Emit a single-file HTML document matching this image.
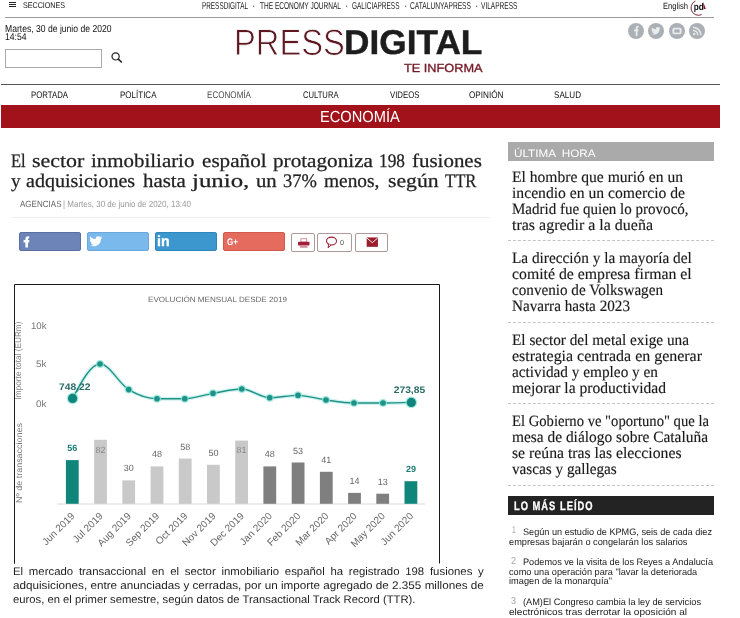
<!DOCTYPE html>
<html lang="es"><head><meta charset="utf-8"><title>PressDigital</title>
<style>
html,body{margin:0;padding:0;background:#fff;}
body{width:740px;height:618px;position:relative;overflow:hidden;font-family:"Liberation Sans",sans-serif;will-change:transform;-webkit-font-smoothing:antialiased;text-rendering:geometricPrecision;}
.t{position:absolute;white-space:pre;transform-origin:0 0;display:block;}
.b{position:absolute;display:block;}
svg{position:absolute;overflow:visible;}
</style></head><body>
<div class="b" style="left:9px;top:2px;width:6.5px;height:1px;background:#222;"></div>
<div class="b" style="left:9px;top:4px;width:6.5px;height:1px;background:#222;"></div>
<div class="b" style="left:9px;top:6px;width:6.5px;height:1px;background:#222;"></div>
<div class="b" style="left:5px;top:17px;width:709px;height:1px;background:#999;"></div>
<div class="b" style="left:5px;top:49px;width:95px;height:17px;border:1px solid #a9a9a9;background:#fff;"></div>
<svg style="left:110px;top:51px" width="14" height="13" viewBox="0 0 14 13"><circle cx="5.6" cy="5.4" r="3.6" fill="none" stroke="#222" stroke-width="1.2"/><path d="M8.3 8.1 L11.4 11" stroke="#222" stroke-width="1.7" stroke-linecap="round"/></svg>
<div class="b" style="left:1px;top:84px;width:719px;height:1px;background:#555;"></div>
<div class="b" style="left:1px;top:105px;width:719px;height:23px;background:#a2121a;"></div>
<svg style="left:628px;top:22.7px" width="16" height="16" viewBox="-8 -8 16 16"><circle r="8" fill="#aab0b5"/><path d="M-0.3 5 V0.3 H-2 V-1.6 H-0.3 V-3 C-0.3 -4.6 0.8 -5.3 2.6 -5.1 V-3.4 C1.7 -3.5 1.5 -3.2 1.5 -2.7 V-1.6 H2.6 L2.3 0.3 H1.5 V5 Z" fill="#e8eaeb"/></svg>
<svg style="left:648.4px;top:22.7px" width="16" height="16" viewBox="-8 -8 16 16"><circle r="8" fill="#aab0b5"/><path d="M-4.6 2.9 C-1 4.8 3.6 2.6 3.6 -1.9 L4.6 -3 L3.4 -2.7 L4.2 -3.9 L2.9 -3.4 C1.6 -4.7 -0.6 -3.7 -0.2 -1.8 C-1.9 -1.9 -3.2 -2.7 -4.1 -3.8 C-4.7 -2.7 -4.3 -1.6 -3.6 -1 L-4.5 -1.3 C-4.5 -0.2 -3.7 0.6 -2.8 0.9 L-3.7 0.9 C-3.4 1.8 -2.6 2.3 -1.7 2.3 C-2.5 2.9 -3.5 3.1 -4.6 2.9Z" fill="#e8eaeb"/></svg>
<svg style="left:668.9px;top:22.7px" width="16" height="16" viewBox="-8 -8 16 16"><circle r="8" fill="#aab0b5"/><rect x="-4.6" y="-3.2" width="9.2" height="6.4" rx="1.6" fill="#e8eaeb"/><rect x="-2.6" y="-1.6" width="5.2" height="3.2" fill="#aab0b5"/></svg>
<svg style="left:689.4px;top:22.7px" width="16" height="16" viewBox="-8 -8 16 16"><circle r="8" fill="#aab0b5"/><circle cx="-2.8" cy="3" r="1.2" fill="#e8eaeb"/><path d="M-4 -0.6 A4.6 4.6 0 0 1 0.8 4.2 M-4 -3.6 A7.6 7.6 0 0 1 3.8 4.2" fill="none" stroke="#e8eaeb" stroke-width="1.5"/></svg>
<svg style="left:689px;top:0px" width="18" height="16" viewBox="0 0 18 16"><path d="M6.4 1 A7.4 7.4 0 0 0 12.6 14.6" fill="none" stroke="#6a1420" stroke-width="0.9"/><text x="4.7" y="10" font-family="Liberation Sans" font-weight="700" font-size="9.8" fill="#111" textLength="10" lengthAdjust="spacingAndGlyphs">pd</text><path d="M14.1 1.8 L16.9 8.9 L14.6 8.9 Z" fill="#8a1525"/></svg>
<div class="b" style="left:19px;top:232px;width:60px;height:17px;background:#6d84b8;border:1px solid #5a70a3;border-radius:2px;"></div>
<svg style="left:23px;top:236px" width="9" height="12" viewBox="0 0 9 12"><path d="M2.4 11.5 V6.4 H0.6 V4.1 H2.4 V2.8 C2.4 0.9 3.8 0.1 6.2 0.3 V2.5 C5.2 2.4 5 2.7 5 3.2 V4.1 H6.4 L6.1 6.4 H5 V11.5 Z" fill="#fff"/></svg>
<div class="b" style="left:87px;top:232px;width:60px;height:17px;background:#7ab9ec;border:1px solid #69a8dc;border-radius:2px;"></div>
<svg style="left:89px;top:236px" width="14" height="11" viewBox="-7 -5.5 14 11"><path d="M-6.4 3.8 C-1.4 6.4 5 3.4 5 -2.6 L6.4 -4.1 L4.8 -3.7 L5.9 -5.2 L4.1 -4.6 C2.3 -6.3 -0.8 -5 -0.3 -2.4 C-2.6 -2.5 -4.4 -3.6 -5.7 -5.1 C-6.5 -3.6 -6 -2.1 -5 -1.3 L-6.2 -1.7 C-6.2 -0.2 -5.1 0.9 -3.9 1.3 L-5.1 1.3 C-4.7 2.5 -3.6 3.2 -2.4 3.2 C-3.5 4 -4.9 4.2 -6.4 3.8Z" fill="#fff"/></svg>
<div class="b" style="left:155px;top:232px;width:60px;height:17px;background:#3c97cf;border:1px solid #2f86bb;border-radius:2px;"></div>

<div class="b" style="left:223px;top:232px;width:60px;height:17px;background:#e46b5e;border:1px solid #d15a4e;border-radius:2px;"></div>

<div class="b" style="left:291px;top:232.5px;width:22px;height:17px;background:#fff;border:1px solid #ad9999;border-radius:2px;"></div>
<div class="b" style="left:317px;top:232.5px;width:33px;height:17px;background:#fff;border:1px solid #ad9999;border-radius:2px;"></div>
<div class="b" style="left:355px;top:232.5px;width:31px;height:17px;background:#fff;border:1px solid #ad9999;border-radius:2px;"></div>
<svg style="left:297px;top:237px" width="13" height="11" viewBox="0 0 13 11"><rect x="3.9" y="1.7" width="5.8" height="3.4" fill="#fff" stroke="#cf8a98" stroke-width="0.9"/><rect x="1" y="4.8" width="11.5" height="3.8" rx="0.8" fill="#a01f38"/><rect x="2.9" y="9.5" width="7.6" height="0.9" fill="#a01f38"/></svg>
<svg style="left:325.4px;top:235.6px" width="14" height="13" viewBox="0 0 14 13"><ellipse cx="6.5" cy="5" rx="5" ry="3.9" fill="#fff" stroke="#9c1c2c" stroke-width="1.05"/><path d="M3.9 8.2 L3 11.8 L6.4 8.9" fill="#fff" stroke="#9c1c2c" stroke-width="0.95"/></svg>
<svg style="left:366.3px;top:236.8px" width="12.6" height="10.3" viewBox="0 0 13 11"><rect x="0.5" y="0.5" width="12" height="10" fill="#9c1c2c"/><path d="M0.8 1.2 L6.5 6 L12.2 1.2" fill="none" stroke="#fff" stroke-width="1"/></svg>
<div class="b" style="left:11px;top:217px;width:479px;height:1px;background:#efefef;"></div>
<div class="b" style="left:508.2px;top:142.3px;width:205.8px;height:19px;background:#aaaaaa;"></div>
<div class="b" style="left:508px;top:496px;width:206px;height:19px;background:#232323;"></div>
<div class="b" style="left:508px;top:240px;width:206px;height:0;border-top:1px dashed #c4c4c4;"></div>
<div class="b" style="left:508px;top:322px;width:206px;height:0;border-top:1px dashed #c4c4c4;"></div>
<div class="b" style="left:508px;top:403px;width:206px;height:0;border-top:1px dashed #c4c4c4;"></div>
<div class="b" style="left:508px;top:485px;width:206px;height:0;border-top:1px dashed #c4c4c4;"></div>
<span class="t" style="left:23.00px;top:-0.08px;font:400 8.3px/10px 'Liberation Sans',sans-serif;color:#111;transform:scaleX(0.8593);">SECCIONES</span>
<span class="t" style="left:202.00px;top:0.63px;font:400 10px/12px 'Liberation Sans',sans-serif;color:#222;transform:scaleX(0.6383);">PRESSDIGITAL</span>
<span class="t" style="left:252.00px;top:0.63px;font:400 10px/12px 'Liberation Sans',sans-serif;color:#222;transform:scaleX(1.0000);">·</span>
<span class="t" style="left:259.50px;top:0.63px;font:400 10px/12px 'Liberation Sans',sans-serif;color:#222;transform:scaleX(0.6546);">THE ECONOMY JOURNAL</span>
<span class="t" style="left:345.00px;top:0.63px;font:400 10px/12px 'Liberation Sans',sans-serif;color:#222;transform:scaleX(1.0000);">·</span>
<span class="t" style="left:352.00px;top:0.63px;font:400 10px/12px 'Liberation Sans',sans-serif;color:#222;transform:scaleX(0.6475);">GALICIAPRESS</span>
<span class="t" style="left:404.00px;top:0.63px;font:400 10px/12px 'Liberation Sans',sans-serif;color:#222;transform:scaleX(1.0000);">·</span>
<span class="t" style="left:409.50px;top:0.63px;font:400 10px/12px 'Liberation Sans',sans-serif;color:#222;transform:scaleX(0.6652);">CATALUNYAPRESS</span>
<span class="t" style="left:475.00px;top:0.63px;font:400 10px/12px 'Liberation Sans',sans-serif;color:#222;transform:scaleX(1.0000);">·</span>
<span class="t" style="left:481.00px;top:0.63px;font:400 10px/12px 'Liberation Sans',sans-serif;color:#222;transform:scaleX(0.6565);">VILAPRESS</span>
<span class="t" style="left:663.00px;top:0.98px;font:400 9px/11px 'Liberation Sans',sans-serif;color:#111;transform:scaleX(0.8466);">English</span>
<span class="t" style="left:5.00px;top:23.67px;font:400 10.2px/12px 'Liberation Sans',sans-serif;color:#111;transform:scaleX(0.8431);">Martes, 30 de junio de 2020</span>
<span class="t" style="left:5.00px;top:31.83px;font:400 10px/12px 'Liberation Sans',sans-serif;color:#111;transform:scaleX(0.8589);">14:54</span>
<span class="t" style="left:233.80px;top:21.05px;font:400 36.8px/44px 'Liberation Sans',sans-serif;color:#5e1822;transform:scaleX(0.8890);-webkit-text-stroke:0.8px #fff;">PRESS</span>
<span class="t" style="left:343.60px;top:23.28px;font:700 34.4px/41px 'Liberation Sans',sans-serif;color:#1d1d1d;transform:scaleX(1.0252);-webkit-text-stroke:0.4px #1d1d1d;">DIGITAL</span>
<span class="t" style="left:403.80px;top:61.11px;font:400 11.8px/14px 'Liberation Sans',sans-serif;color:#741a25;transform:scaleX(1.0804);-webkit-text-stroke:0.35px #741a25;">TE INFORMA</span>
<span class="t" style="left:31.00px;top:89.61px;font:400 9.5px/11px 'Liberation Sans',sans-serif;color:#111;transform:scaleX(0.8214);">PORTADA</span>
<span class="t" style="left:119.50px;top:89.61px;font:400 9.5px/11px 'Liberation Sans',sans-serif;color:#111;transform:scaleX(0.8430);">POLÍTICA</span>
<span class="t" style="left:207.00px;top:89.61px;font:400 9.5px/11px 'Liberation Sans',sans-serif;color:#4a4a4a;transform:scaleX(0.8505);">ECONOMÍA</span>
<span class="t" style="left:302.50px;top:89.61px;font:400 9.5px/11px 'Liberation Sans',sans-serif;color:#111;transform:scaleX(0.8037);">CULTURA</span>
<span class="t" style="left:389.50px;top:89.61px;font:400 9.5px/11px 'Liberation Sans',sans-serif;color:#111;transform:scaleX(0.8216);">VIDEOS</span>
<span class="t" style="left:469.00px;top:89.61px;font:400 9.5px/11px 'Liberation Sans',sans-serif;color:#111;transform:scaleX(0.8598);">OPINIÓN</span>
<span class="t" style="left:554.00px;top:89.61px;font:400 9.5px/11px 'Liberation Sans',sans-serif;color:#111;transform:scaleX(0.8521);">SALUD</span>
<span class="t" style="left:319.80px;top:108.36px;font:400 16px/19px 'Liberation Sans',sans-serif;color:#fff;transform:scaleX(0.9159);">ECONOMÍA</span>
<span class="t" style="left:10.60px;top:150.42px;font:400 19.2px/23px 'Liberation Serif',serif;color:#222;transform:scaleX(0.8615);-webkit-text-stroke:0.25px #222;">El</span>
<span class="t" style="left:31.80px;top:150.42px;font:400 19.2px/23px 'Liberation Serif',serif;color:#222;transform:scaleX(1.1434);-webkit-text-stroke:0.25px #222;">sector</span>
<span class="t" style="left:91.40px;top:150.42px;font:400 19.2px/23px 'Liberation Serif',serif;color:#222;transform:scaleX(1.0899);-webkit-text-stroke:0.25px #222;">inmobiliario</span>
<span class="t" style="left:201.80px;top:150.42px;font:400 19.2px/23px 'Liberation Serif',serif;color:#222;transform:scaleX(1.1019);-webkit-text-stroke:0.25px #222;">español</span>
<span class="t" style="left:272.80px;top:150.42px;font:400 19.2px/23px 'Liberation Serif',serif;color:#222;transform:scaleX(1.1040);-webkit-text-stroke:0.25px #222;">protagoniza</span>
<span class="t" style="left:378.80px;top:150.42px;font:400 19.2px/23px 'Liberation Serif',serif;color:#222;transform:scaleX(0.8999);-webkit-text-stroke:0.25px #222;">198</span>
<span class="t" style="left:411.90px;top:150.42px;font:400 19.2px/23px 'Liberation Serif',serif;color:#222;transform:scaleX(1.0914);-webkit-text-stroke:0.25px #222;">fusiones</span>
<span class="t" style="left:10.60px;top:169.82px;font:400 19.2px/23px 'Liberation Serif',serif;color:#222;transform:scaleX(1.0111);-webkit-text-stroke:0.25px #222;">y</span>
<span class="t" style="left:26.10px;top:169.82px;font:400 19.2px/23px 'Liberation Serif',serif;color:#222;transform:scaleX(1.0445);-webkit-text-stroke:0.25px #222;">adquisiciones</span>
<span class="t" style="left:143.00px;top:169.82px;font:400 19.2px/23px 'Liberation Serif',serif;color:#222;transform:scaleX(1.0878);-webkit-text-stroke:0.25px #222;">hasta</span>
<span class="t" style="left:191.60px;top:169.82px;font:400 19.2px/23px 'Liberation Serif',serif;color:#222;transform:scaleX(1.2949);-webkit-text-stroke:0.25px #222;">junio,</span>
<span class="t" style="left:256.40px;top:169.82px;font:400 19.2px/23px 'Liberation Serif',serif;color:#222;transform:scaleX(1.0788);-webkit-text-stroke:0.25px #222;">un</span>
<span class="t" style="left:283.10px;top:169.82px;font:400 19.2px/23px 'Liberation Serif',serif;color:#222;transform:scaleX(0.9638);-webkit-text-stroke:0.25px #222;">37%</span>
<span class="t" style="left:324.20px;top:169.82px;font:400 19.2px/23px 'Liberation Serif',serif;color:#222;transform:scaleX(1.0090);-webkit-text-stroke:0.25px #222;">menos,</span>
<span class="t" style="left:388.00px;top:169.82px;font:400 19.2px/23px 'Liberation Serif',serif;color:#222;transform:scaleX(1.1303);-webkit-text-stroke:0.25px #222;">según</span>
<span class="t" style="left:445.00px;top:169.82px;font:400 19.2px/23px 'Liberation Serif',serif;color:#222;transform:scaleX(0.8690);-webkit-text-stroke:0.25px #222;">TTR</span>
<span class="t" style="left:19.50px;top:198.88px;font:400 9px/11px 'Liberation Sans',sans-serif;color:#666;transform:scaleX(0.8922);">AGENCIAS</span>
<span class="t" style="left:63.00px;top:198.88px;font:400 9px/11px 'Liberation Sans',sans-serif;color:#999;transform:scaleX(0.8892);">| Martes, 30 de junio de 2020, 13:40</span>
<span class="t" style="left:157.30px;top:233.68px;font:700 14.5px/17px 'Liberation Sans',sans-serif;color:#fff;transform:scaleX(0.9775);-webkit-text-stroke:0.3px #fff;">in</span>
<span class="t" style="left:227.00px;top:237.21px;font:700 9.5px/11px 'Liberation Sans',sans-serif;color:#fff;transform:scaleX(0.8502);">G+</span>
<span class="t" style="left:340.00px;top:240.37px;font:400 7px/8px 'Liberation Sans',sans-serif;color:#555;transform:scaleX(1.0240);">0</span>
<span class="t" style="left:514.20px;top:148.06px;font:400 10.8px/13px 'Liberation Sans',sans-serif;color:#fff;transform:scaleX(1.0810);">ÚLTIMA  HORA</span>
<span class="t" style="left:512.00px;top:167.67px;font:400 15.8px/19px 'Liberation Serif',serif;color:#1a1a1a;transform:scaleX(0.9867);-webkit-text-stroke:0.15px #1a1a1a;">El hombre que murió en un</span>
<span class="t" style="left:512.00px;top:183.77px;font:400 15.8px/19px 'Liberation Serif',serif;color:#1a1a1a;transform:scaleX(0.9910);-webkit-text-stroke:0.15px #1a1a1a;">incendio en un comercio de</span>
<span class="t" style="left:512.00px;top:199.87px;font:400 15.8px/19px 'Liberation Serif',serif;color:#1a1a1a;transform:scaleX(0.9516);-webkit-text-stroke:0.15px #1a1a1a;">Madrid fue quien lo provocó,</span>
<span class="t" style="left:512.00px;top:215.97px;font:400 15.8px/19px 'Liberation Serif',serif;color:#1a1a1a;transform:scaleX(1.0110);-webkit-text-stroke:0.15px #1a1a1a;">tras agredir a la dueña</span>
<span class="t" style="left:512.00px;top:248.97px;font:400 15.8px/19px 'Liberation Serif',serif;color:#1a1a1a;transform:scaleX(0.9686);-webkit-text-stroke:0.15px #1a1a1a;">La dirección y la mayoría del</span>
<span class="t" style="left:512.00px;top:265.07px;font:400 15.8px/19px 'Liberation Serif',serif;color:#1a1a1a;transform:scaleX(0.9992);-webkit-text-stroke:0.15px #1a1a1a;">comité de empresa firman el</span>
<span class="t" style="left:512.00px;top:281.17px;font:400 15.8px/19px 'Liberation Serif',serif;color:#1a1a1a;transform:scaleX(0.9596);-webkit-text-stroke:0.15px #1a1a1a;">convenio de Volkswagen</span>
<span class="t" style="left:512.00px;top:297.27px;font:400 15.8px/19px 'Liberation Serif',serif;color:#1a1a1a;transform:scaleX(0.9608);-webkit-text-stroke:0.15px #1a1a1a;">Navarra hasta 2023</span>
<span class="t" style="left:512.00px;top:330.97px;font:400 15.8px/19px 'Liberation Serif',serif;color:#1a1a1a;transform:scaleX(0.9677);-webkit-text-stroke:0.15px #1a1a1a;">El sector del metal exige una</span>
<span class="t" style="left:512.00px;top:347.07px;font:400 15.8px/19px 'Liberation Serif',serif;color:#1a1a1a;transform:scaleX(1.0100);-webkit-text-stroke:0.15px #1a1a1a;">estrategia centrada en generar</span>
<span class="t" style="left:512.00px;top:363.17px;font:400 15.8px/19px 'Liberation Serif',serif;color:#1a1a1a;transform:scaleX(0.9675);-webkit-text-stroke:0.15px #1a1a1a;">actividad y empleo y en</span>
<span class="t" style="left:512.00px;top:379.27px;font:400 15.8px/19px 'Liberation Serif',serif;color:#1a1a1a;transform:scaleX(0.9862);-webkit-text-stroke:0.15px #1a1a1a;">mejorar la productividad</span>
<span class="t" style="left:512.00px;top:412.17px;font:400 15.8px/19px 'Liberation Serif',serif;color:#1a1a1a;transform:scaleX(0.9270);-webkit-text-stroke:0.15px #1a1a1a;">El Gobierno ve "oportuno" que la</span>
<span class="t" style="left:512.00px;top:428.27px;font:400 15.8px/19px 'Liberation Serif',serif;color:#1a1a1a;transform:scaleX(0.9755);-webkit-text-stroke:0.15px #1a1a1a;">mesa de diálogo sobre Cataluña</span>
<span class="t" style="left:512.00px;top:444.37px;font:400 15.8px/19px 'Liberation Serif',serif;color:#1a1a1a;transform:scaleX(0.9961);-webkit-text-stroke:0.15px #1a1a1a;">se reúna tras las elecciones</span>
<span class="t" style="left:512.00px;top:460.47px;font:400 15.8px/19px 'Liberation Serif',serif;color:#1a1a1a;transform:scaleX(0.9625);-webkit-text-stroke:0.15px #1a1a1a;">vascas y gallegas</span>
<span class="t" style="left:514.00px;top:498.84px;font:700 12.3px/15px 'Liberation Sans',sans-serif;color:#fff;transform:scaleX(0.7614);letter-spacing:1.3px;-webkit-text-stroke:0.3px #fff;">LO MÁS LEÍDO</span>
<span class="t" style="left:511.80px;top:525.43px;font:400 10px/12px 'Liberation Sans',sans-serif;color:#a4a4a4;transform:scaleX(0.6831);">1</span>
<span class="t" style="left:523.00px;top:525.94px;font:400 9.4px/11px 'Liberation Sans',sans-serif;color:#1a1a1a;transform:scaleX(0.9749);">Según un estudio de KPMG, seis de cada diez</span>
<span class="t" style="left:508.60px;top:535.54px;font:400 9.4px/11px 'Liberation Sans',sans-serif;color:#1a1a1a;transform:scaleX(0.9842);">empresas bajarán o congelarán los salarios</span>
<span class="t" style="left:511.30px;top:555.83px;font:400 10px/12px 'Liberation Sans',sans-serif;color:#a4a4a4;transform:scaleX(0.8989);">2</span>
<span class="t" style="left:523.00px;top:556.24px;font:400 9.4px/11px 'Liberation Sans',sans-serif;color:#1a1a1a;transform:scaleX(0.9774);">Podemos ve la visita de los Reyes a Andalucía</span>
<span class="t" style="left:508.60px;top:565.84px;font:400 9.4px/11px 'Liberation Sans',sans-serif;color:#1a1a1a;transform:scaleX(0.9776);">como una operación para "lavar la deteriorada</span>
<span class="t" style="left:508.60px;top:575.44px;font:400 9.4px/11px 'Liberation Sans',sans-serif;color:#1a1a1a;transform:scaleX(0.9862);">imagen de la monarquía"</span>
<span class="t" style="left:511.30px;top:595.83px;font:400 10px/12px 'Liberation Sans',sans-serif;color:#a4a4a4;transform:scaleX(0.8989);">3</span>
<span class="t" style="left:523.00px;top:596.24px;font:400 9.4px/11px 'Liberation Sans',sans-serif;color:#1a1a1a;transform:scaleX(0.9816);">(AM)El Congreso cambia la ley de servicios</span>
<span class="t" style="left:508.60px;top:605.84px;font:400 9.4px/11px 'Liberation Sans',sans-serif;color:#1a1a1a;transform:scaleX(1.0741);">electrónicos tras derrotar la oposición al</span>
<span class="t" style="left:13.20px;top:566.29px;font:400 11px/13px 'Liberation Sans',sans-serif;color:#1e1e1e;transform:scaleX(1.0348);word-spacing:2.5px;">El mercado transaccional en el sector inmobiliario español ha registrado 198 fusiones y</span>
<span class="t" style="left:13.20px;top:580.19px;font:400 11px/13px 'Liberation Sans',sans-serif;color:#1e1e1e;transform:scaleX(1.0634);">adquisiciones, entre anunciadas y cerradas, por un importe agregado de 2.355 millones de</span>
<span class="t" style="left:13.20px;top:594.29px;font:400 11px/13px 'Liberation Sans',sans-serif;color:#1e1e1e;transform:scaleX(1.0239);">euros, en el primer semestre, según datos de Transactional Track Record (TTR).</span>
<svg style="left:0;top:0" width="740" height="618" viewBox="0 0 740 618" font-family="Liberation Sans, sans-serif">
<path d="M14.5 563.8 V284.5 H439.5 V563.5" fill="none" stroke="#1a1a1a" stroke-width="1"/>
<text x="148" y="301.9" font-size="7.6" fill="#666" textLength="139" lengthAdjust="spacingAndGlyphs">EVOLUCIÓN MENSUAL DESDE 2019</text>
<text x="31" y="328.8" font-size="9.5" fill="#777" textLength="15.5" lengthAdjust="spacingAndGlyphs">10k</text>
<text x="36" y="367.3" font-size="9.5" fill="#777" textLength="10.5" lengthAdjust="spacingAndGlyphs">5k</text>
<text x="36" y="407" font-size="9.5" fill="#777" textLength="10.5" lengthAdjust="spacingAndGlyphs">0k</text>
<text transform="translate(20.8,399.5) rotate(-90)" font-size="8.5" fill="#808080" textLength="78" lengthAdjust="spacingAndGlyphs">Importe total (EURm)</text>
<text transform="translate(21.6,503) rotate(-90)" font-size="8.5" fill="#777" textLength="80" lengthAdjust="spacingAndGlyphs">Nº de transacciones</text>
<path d="M72.6 398.4 C81.7 381.2 90.9 364.0 100.0 364.0 C109.6 364.0 119.1 383.8 128.7 389.6 C138.1 395.3 147.6 398.7 157.0 398.7 C166.3 398.7 175.5 398.7 184.8 398.7 C194.2 398.7 203.6 394.9 213.0 393.3 C222.6 391.7 232.2 389.0 241.8 389.0 C251.1 389.0 260.4 397.7 269.7 397.7 C279.1 397.7 288.6 395.3 298.0 395.3 C307.3 395.3 316.7 398.7 326.0 400.0 C335.3 401.3 344.7 403.0 354.0 403.0 C363.7 403.0 373.3 403.0 383.0 403.0 C392.4 403.0 401.9 402.7 411.3 402.4" fill="none" stroke="#bfeee8" stroke-width="4" opacity="0.7"/>
<path d="M72.6 398.4 C81.7 381.2 90.9 364.0 100.0 364.0 C109.6 364.0 119.1 383.8 128.7 389.6 C138.1 395.3 147.6 398.7 157.0 398.7 C166.3 398.7 175.5 398.7 184.8 398.7 C194.2 398.7 203.6 394.9 213.0 393.3 C222.6 391.7 232.2 389.0 241.8 389.0 C251.1 389.0 260.4 397.7 269.7 397.7 C279.1 397.7 288.6 395.3 298.0 395.3 C307.3 395.3 316.7 398.7 326.0 400.0 C335.3 401.3 344.7 403.0 354.0 403.0 C363.7 403.0 373.3 403.0 383.0 403.0 C392.4 403.0 401.9 402.7 411.3 402.4" fill="none" stroke="#1f9287" stroke-width="1.35"/>
<circle cx="72.6" cy="398.4" r="5.8" fill="#8fe3da" opacity="0.8"/>
<circle cx="72.6" cy="398.4" r="4.6" fill="#10857b"/>
<circle cx="100" cy="364" r="4.0" fill="#8fe3da" opacity="0.8"/>
<circle cx="100" cy="364" r="2.8" fill="#1f9287"/>
<circle cx="128.7" cy="389.6" r="4.0" fill="#8fe3da" opacity="0.8"/>
<circle cx="128.7" cy="389.6" r="2.8" fill="#1f9287"/>
<circle cx="157" cy="398.7" r="4.0" fill="#8fe3da" opacity="0.8"/>
<circle cx="157" cy="398.7" r="2.8" fill="#1f9287"/>
<circle cx="184.8" cy="398.7" r="4.0" fill="#8fe3da" opacity="0.8"/>
<circle cx="184.8" cy="398.7" r="2.8" fill="#1f9287"/>
<circle cx="213" cy="393.3" r="4.0" fill="#8fe3da" opacity="0.8"/>
<circle cx="213" cy="393.3" r="2.8" fill="#1f9287"/>
<circle cx="241.8" cy="389" r="4.0" fill="#8fe3da" opacity="0.8"/>
<circle cx="241.8" cy="389" r="2.8" fill="#1f9287"/>
<circle cx="269.7" cy="397.7" r="4.0" fill="#8fe3da" opacity="0.8"/>
<circle cx="269.7" cy="397.7" r="2.8" fill="#1f9287"/>
<circle cx="298" cy="395.3" r="4.0" fill="#8fe3da" opacity="0.8"/>
<circle cx="298" cy="395.3" r="2.8" fill="#1f9287"/>
<circle cx="326" cy="400" r="4.0" fill="#8fe3da" opacity="0.8"/>
<circle cx="326" cy="400" r="2.8" fill="#1f9287"/>
<circle cx="354" cy="403" r="4.0" fill="#8fe3da" opacity="0.8"/>
<circle cx="354" cy="403" r="2.8" fill="#1f9287"/>
<circle cx="383" cy="403" r="4.0" fill="#8fe3da" opacity="0.8"/>
<circle cx="383" cy="403" r="2.8" fill="#1f9287"/>
<circle cx="411.3" cy="402.4" r="5.8" fill="#8fe3da" opacity="0.8"/>
<circle cx="411.3" cy="402.4" r="4.6" fill="#10857b"/>
<text x="59" y="390" font-size="9.5" font-weight="700" fill="#2a6b68" textLength="31.5" lengthAdjust="spacingAndGlyphs">748,22</text>
<text x="393.7" y="393" font-size="9.5" font-weight="700" fill="#2a6b68" textLength="31.5" lengthAdjust="spacingAndGlyphs">273,85</text>
<path d="M57 504 H425" stroke="#d8d8d8" stroke-width="1"/>
<rect x="65.9" y="460.1" width="12.8" height="43.7" fill="#10857b"/>
<text x="72.3" y="451.1" font-size="9" font-weight="700" fill="#1a7d76" text-anchor="middle">56</text>
<text transform="translate(75.3,516.6) rotate(-45)" font-size="10" fill="#666" text-anchor="end">Jun 2019</text>
<rect x="94.1" y="439.8" width="12.8" height="64.0" fill="#c9c9c9"/>
<text x="100.5" y="452.8" font-size="9" fill="#8a8a8a" text-anchor="middle">82</text>
<text transform="translate(103.5,516.6) rotate(-45)" font-size="10" fill="#666" text-anchor="end">Jul 2019</text>
<rect x="122.3" y="480.4" width="12.8" height="23.4" fill="#c9c9c9"/>
<text x="128.7" y="471.4" font-size="9" fill="#666" text-anchor="middle">30</text>
<text transform="translate(131.7,516.6) rotate(-45)" font-size="10" fill="#666" text-anchor="end">Aug 2019</text>
<rect x="150.6" y="466.4" width="12.8" height="37.4" fill="#c9c9c9"/>
<text x="157.0" y="457.4" font-size="9" fill="#666" text-anchor="middle">48</text>
<text transform="translate(160.0,516.6) rotate(-45)" font-size="10" fill="#666" text-anchor="end">Sep 2019</text>
<rect x="178.8" y="458.6" width="12.8" height="45.2" fill="#c9c9c9"/>
<text x="185.2" y="449.6" font-size="9" fill="#666" text-anchor="middle">58</text>
<text transform="translate(188.2,516.6) rotate(-45)" font-size="10" fill="#666" text-anchor="end">Oct 2019</text>
<rect x="207.0" y="464.8" width="12.8" height="39.0" fill="#c9c9c9"/>
<text x="213.4" y="455.8" font-size="9" fill="#666" text-anchor="middle">50</text>
<text transform="translate(216.4,516.6) rotate(-45)" font-size="10" fill="#666" text-anchor="end">Nov 2019</text>
<rect x="235.2" y="440.6" width="12.8" height="63.2" fill="#c9c9c9"/>
<text x="241.6" y="452.8" font-size="9" fill="#8a8a8a" text-anchor="middle">81</text>
<text transform="translate(244.6,516.6) rotate(-45)" font-size="10" fill="#666" text-anchor="end">Dec 2019</text>
<rect x="263.4" y="466.4" width="12.8" height="37.4" fill="#7f7f7f"/>
<text x="269.8" y="457.4" font-size="9" fill="#666" text-anchor="middle">48</text>
<text transform="translate(272.8,516.6) rotate(-45)" font-size="10" fill="#666" text-anchor="end">Jan 2020</text>
<rect x="291.7" y="462.5" width="12.8" height="41.3" fill="#7f7f7f"/>
<text x="298.1" y="453.5" font-size="9" fill="#666" text-anchor="middle">53</text>
<text transform="translate(301.1,516.6) rotate(-45)" font-size="10" fill="#666" text-anchor="end">Feb 2020</text>
<rect x="319.9" y="471.8" width="12.8" height="32.0" fill="#7f7f7f"/>
<text x="326.3" y="462.8" font-size="9" fill="#666" text-anchor="middle">41</text>
<text transform="translate(329.3,516.6) rotate(-45)" font-size="10" fill="#666" text-anchor="end">Mar 2020</text>
<rect x="348.1" y="492.9" width="12.8" height="10.9" fill="#7f7f7f"/>
<text x="354.5" y="483.9" font-size="9" fill="#666" text-anchor="middle">14</text>
<text transform="translate(357.5,516.6) rotate(-45)" font-size="10" fill="#666" text-anchor="end">Apr 2020</text>
<rect x="376.3" y="493.7" width="12.8" height="10.1" fill="#7f7f7f"/>
<text x="382.7" y="484.7" font-size="9" fill="#666" text-anchor="middle">13</text>
<text transform="translate(385.7,516.6) rotate(-45)" font-size="10" fill="#666" text-anchor="end">May 2020</text>
<rect x="404.5" y="481.2" width="12.8" height="22.6" fill="#10857b"/>
<text x="410.9" y="472.2" font-size="9" font-weight="700" fill="#1a7d76" text-anchor="middle">29</text>
<text transform="translate(413.9,516.6) rotate(-45)" font-size="10" fill="#666" text-anchor="end">Jun 2020</text>
</svg>
</body></html>
